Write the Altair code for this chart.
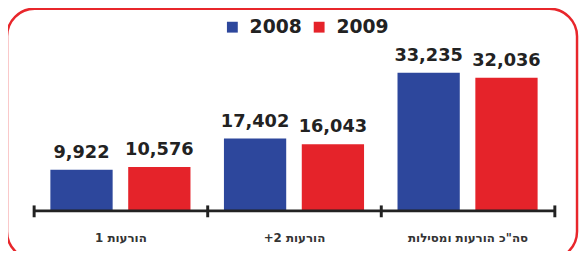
import altair as alt
import pandas as pd

RLE, PDF = "\u202b", "\u202c"
categories = [RLE + "הורעות 1" + PDF, RLE + "הורעות 2+" + PDF, RLE + "סה\"כ הורעות ומסילות" + PDF]
years = ["2008", "2009"]
values_2008 = [9922, 17402, 33235]
values_2009 = [10576, 16043, 32036]
colors = ["#2d479c", "#e5232a"]

rows = []
for c, a, b in zip(categories, values_2008, values_2009):
    rows.append({"cat": c, "year": years[0], "value": a})
    rows.append({"cat": c, "year": years[1], "value": b})
df = pd.DataFrame(rows)

W, H = 528, 172

x = alt.X(
    "cat:N", sort=categories,
    scale=alt.Scale(paddingInner=0, paddingOuter=0),
    axis=alt.Axis(title=None, domain=False, offset=-6, tickSize=12, tickWidth=3,
                  tickColor="#222", tickBand="extent", labelAngle=0,
                  labelFont="DejaVu Sans", labelFontWeight="bold", labelFontSize=12,
                  labelColor="#333", labelPadding=16),
)
xo = alt.XOffset("year:N", sort=years, scale=alt.Scale(paddingInner=0.2, paddingOuter=0.215))
y = alt.Y("value:Q", scale=alt.Scale(domain=[0, 40830]), axis=None)
color = alt.Color(
    "year:N", sort=years,
    scale=alt.Scale(domain=years, range=colors),
    legend=alt.Legend(orient="none", legendX=192, legendY=-24, direction="horizontal",
                      title=None, symbolType="square", symbolSize=121, symbolStrokeWidth=0,
                      labelFont="DejaVu Sans", labelFontSize=19, labelFontWeight="bold",
                      labelColor="#222", labelOffset=8, columnPadding=8, symbolOpacity=1),
)

base = alt.Chart(df)
bars = base.mark_bar().encode(x=x, xOffset=xo, y=y, color=color)
labels = base.mark_text(dy=-12, baseline="alphabetic", fontSize=18, fontWeight="bold",
                        font="DejaVu Sans", color="#222").encode(
    x=x, xOffset=xo, y=y, text=alt.Text("value:Q", format=","))
domain = alt.Chart(pd.DataFrame({"v": [0]})).mark_rule(color="#222", strokeWidth=3).encode(
    y=alt.Y("v:Q", scale=alt.Scale(domain=[0, 40830]), axis=None),
    x=alt.value(0), x2=alt.value(W))
border = alt.Chart(pd.DataFrame({"v": [0]})).mark_rect(
    fillOpacity=0, stroke="#e8262b", strokeWidth=2.5, cornerRadius=28, clip=False).encode(
    x=alt.value(-27), x2=alt.value(551), y=alt.value(-33), y2=alt.value(221))

chart = alt.layer(bars, labels, domain, border).properties(
    width=W, height=H,
    autosize=alt.AutoSizeParams(type="none"),
    padding={"left": 26, "top": 32, "right": 25, "bottom": 39},
    background="white",
).configure_view(stroke=None)

chart.save("out.html", embed_options={"renderer": "svg", "actions": False})
